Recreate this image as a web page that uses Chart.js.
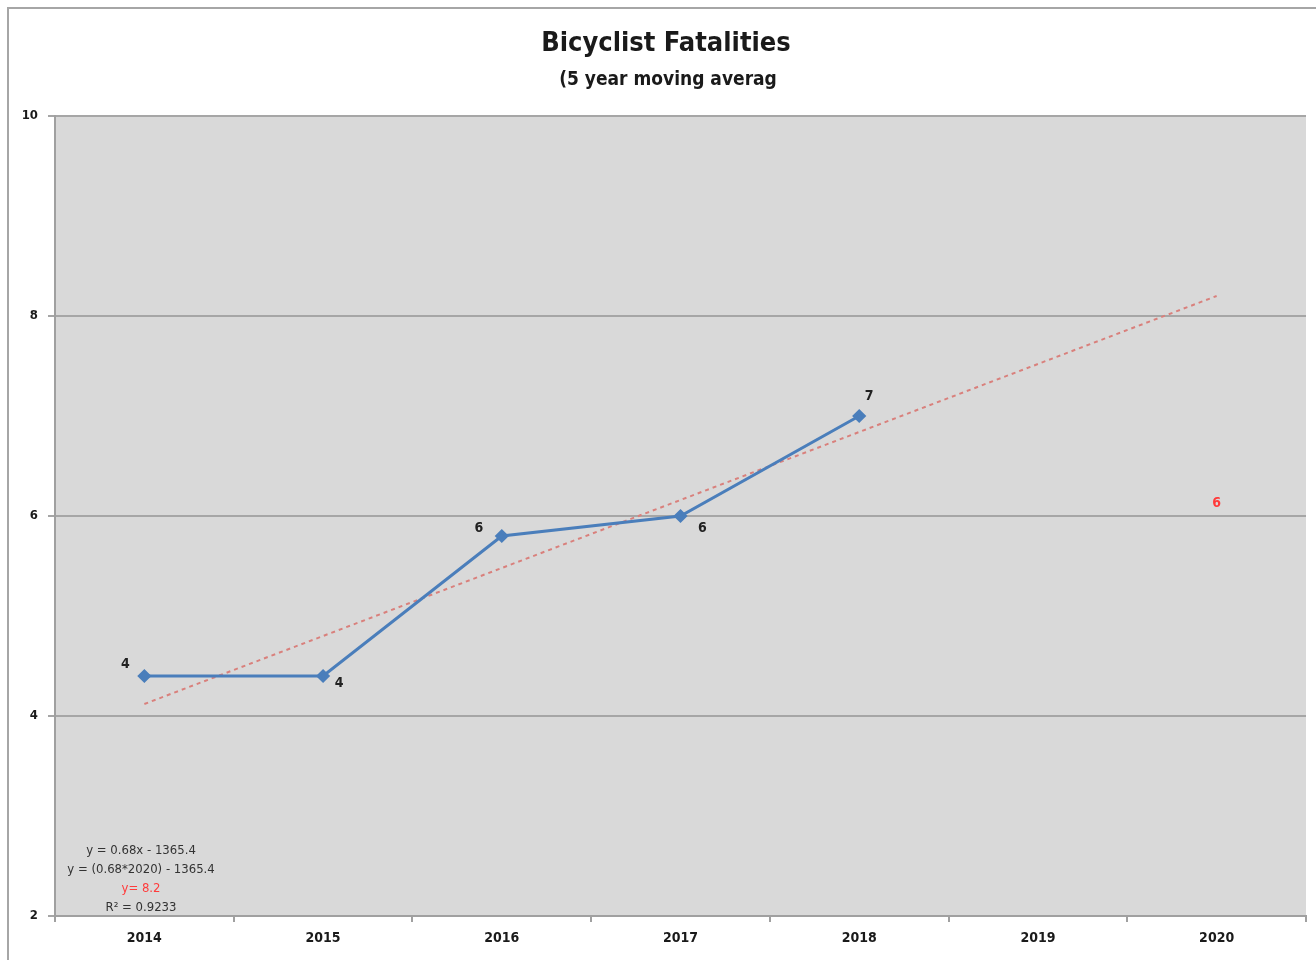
<!DOCTYPE html>
<html>
<head>
<meta charset="utf-8">
<script src="https://cdn.jsdelivr.net/npm/chart.js@4"></script>
<style>
  html, body { margin: 0; padding: 0; background: #fff; }
  #wrap { width: 1316px; height: 960px; }
</style>
</head>
<body>
<div id="wrap"><canvas id="bikeChart" width="1316" height="960"></canvas></div>
<script>
// data
const years = ['2014', '2015', '2016', '2017', '2018', '2019', '2020'];
const movingAvg = [4.4, 4.4, 5.8, 6.0, 7.0, null, null];
const trendLine = [4.12, 4.80, 5.48, 6.16, 6.84, 7.52, 8.20];
const forecast = [null, null, null, null, null, null, 6];
const yTicks = [2, 4, 6, 8, 10];
const equationLines = ['y = 0.68x - 1365.4', 'y = (0.68*2020) - 1365.4', 'y= 8.2', 'R\u00b2 = 0.9233'];

const FONT = '"Liberation Sans Narrow", "DejaVu Sans Condensed", "Liberation Sans", sans-serif';

// where each value label sits relative to its point
const labelOffsets = [[-19, -12], [16, 7], [-23, -8], [22, 12], [10, -20], [0, 0], [0, -13]];

const extras = {
  id: 'extras',
  beforeDraw(chart) {
    const c = chart.ctx;
    c.save();
    c.strokeStyle = '#a6a6a6';
    c.lineWidth = 2;
    c.beginPath();
    c.moveTo(8, 960); c.lineTo(8, 8); c.lineTo(1316, 8);
    c.stroke();
    // plot background
    const a = chart.chartArea;
    c.fillStyle = '#d9d9d9';
    c.fillRect(a.left, a.top, a.right - a.left, a.bottom - a.top);
    // titles
    c.fillStyle = '#1a1a1a';
    c.textAlign = 'center';
    c.textBaseline = 'middle';
    c.font = 'bold 27px ' + FONT;
    c.fillText('Bicyclist Fatalities', 666, 44);
    c.font = 'bold 19px ' + FONT;
    c.fillText('(5 year moving averag', 668, 80);
    c.restore();
  },
  afterDatasetsDraw(chart) {
    const c = chart.ctx;
    c.save();
    c.textAlign = 'center';
    c.textBaseline = 'middle';
    c.font = 'bold 14px ' + FONT;
    chart.getDatasetMeta(0).data.forEach((pt, i) => {
      const v = movingAvg[i];
      if (v == null) return;
      c.fillStyle = '#222';
      c.fillText(String(Math.round(v)), pt.x + labelOffsets[i][0], pt.y + labelOffsets[i][1]);
    });
    chart.getDatasetMeta(2).data.forEach((pt, i) => {
      const v = forecast[i];
      if (v == null) return;
      c.fillStyle = '#ff3b3b';
      c.fillText(String(Math.round(v)), pt.x + labelOffsets[i][0], pt.y + labelOffsets[i][1]);
    });
    // trendline equation box
    const a = chart.chartArea;
    c.font = '13px ' + FONT;
    equationLines.forEach((t, i) => {
      c.fillStyle = i === 2 ? '#ff3b3b' : '#333';
      c.fillText(t, a.left + 86, a.bottom - 65 + i * 19);
    });
    c.restore();
  }
};

new Chart(document.getElementById('bikeChart'), {
  type: 'line',
  data: {
    labels: years,
    datasets: [
      {
        label: 'Moving average',
        data: movingAvg,
        borderColor: '#4a7ebb',
        backgroundColor: '#4a7ebb',
        borderWidth: 3,
        pointStyle: 'rectRot',
        pointRadius: 5,
        pointHoverRadius: 5,
        spanGaps: false,
        order: 1
      },
      {
        label: 'Linear trend',
        data: trendLine,
        borderColor: '#d9807c',
        borderWidth: 2,
        borderDash: [4, 4],
        pointRadius: 0,
        order: 2
      },
      {
        label: 'Forecast',
        data: forecast,
        showLine: false,
        pointRadius: 0,
        order: 3
      }
    ]
  },
  options: {
    responsive: false,
    animation: false,
    layout: { padding: { left: 8, top: 116, right: 10, bottom: 0 } },
    plugins: {
      legend: { display: false },
      tooltip: { enabled: false },
      title: { display: false }
    },
    scales: {
      x: {
        offset: true,
        grid: {
          offset: true,
          drawOnChartArea: false,
          drawTicks: true,
          tickLength: 6,
          color: '#a0a0a0',
          lineWidth: 2
        },
        border: { color: '#a0a0a0', width: 2 },
        ticks: {
          color: '#1a1a1a',
          font: { family: FONT, size: 14, weight: 'bold' },
          padding: 8
        },
        afterFit(scale) { scale.height = 44; }
      },
      y: {
        min: 2,
        max: 10,
        afterBuildTicks(scale) { scale.ticks = yTicks.map(v => ({ value: v })); },
        grid: {
          color: '#a6a6a6',
          lineWidth: 2,
          tickLength: 7
        },
        border: { color: '#a0a0a0', width: 2 },
        ticks: {
          color: '#1a1a1a',
          font: { family: FONT, size: 13, weight: 'bold' },
          padding: 10
        },
        afterFit(scale) { scale.width = 47; }
      }
    }
  },
  plugins: [extras]
});
</script>
</body>
</html>
